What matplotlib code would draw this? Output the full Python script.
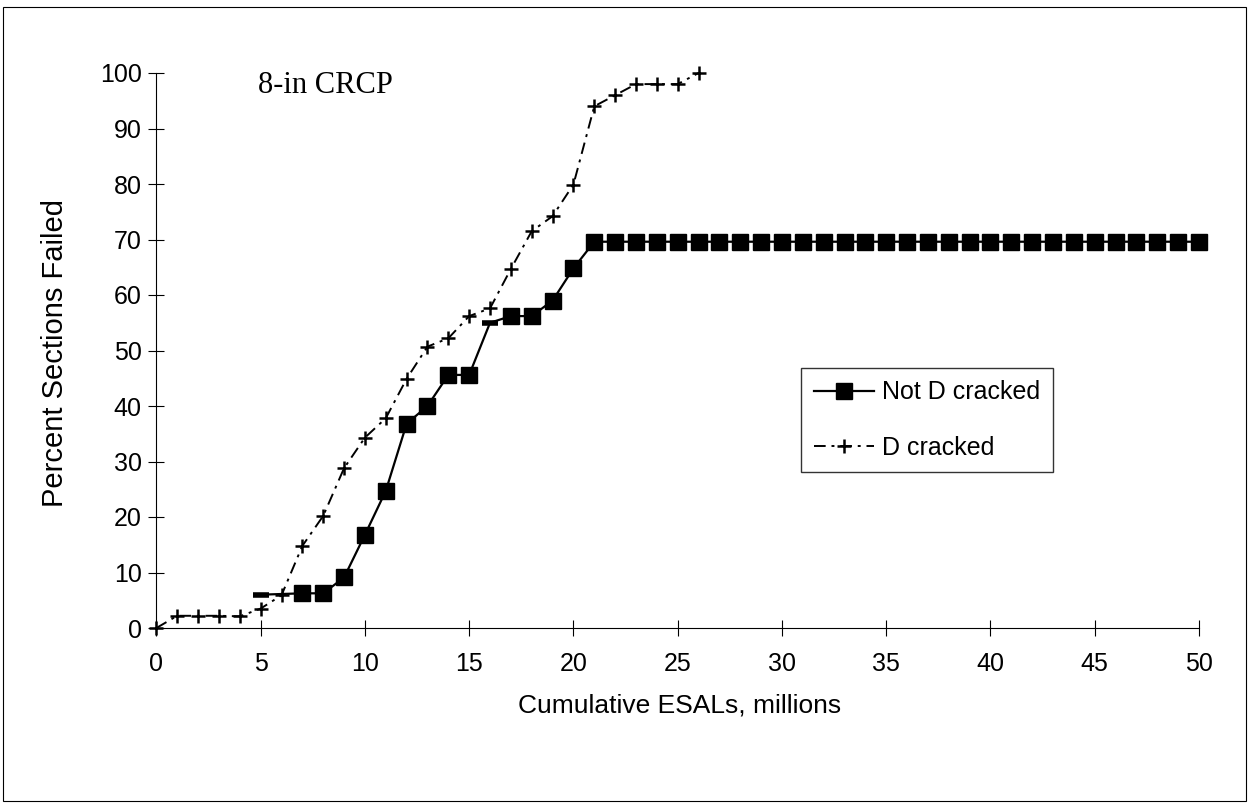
import matplotlib
matplotlib.use('Agg')
import matplotlib.pyplot as plt
from matplotlib.patches import Rectangle
from matplotlib.lines import Line2D

# Data
d_x = [0, 1, 2, 3, 4, 5, 6, 7, 8, 9, 10, 11, 12, 13, 14, 15, 16, 17, 18, 19, 20, 21, 22, 23, 24, 25, 26]
d_y = [0, 2.2, 2.2, 2.2, 2.1, 3.5, 5.9, 14.8, 20.2, 28.8, 34.3, 37.8, 44.9, 50.7, 52.2, 56.2, 57.6,
       64.7, 71.5, 74.2, 79.9, 94, 96, 98, 98, 98, 100]

nd_x = [5, 7, 8, 9, 10, 11, 12, 13, 14, 15, 16, 17, 18, 19, 20] + list(range(21, 51))
nd_y = [6, 6.25, 6.25, 9.1, 16.8, 24.7, 36.8, 40, 45.6, 45.6, 55, 56.2, 56.2, 59, 64.8] + [69.6] * 30
nd_dash_x = [5, 16]   # points drawn as a short bar instead of a square

x_ticks = list(range(0, 51, 5))
y_ticks = list(range(0, 101, 10))

plt.rcParams['font.family'] = ['Liberation Sans', 'DejaVu Sans']

W, H = 1250, 808
fig = plt.figure(figsize=(W / 100, H / 100), dpi=100)
ax = fig.add_axes([156.4 / W, 1 - 628 / H, 1042.6 / W, 555 / H])

# D cracked: dashed line with plus markers
ax.plot(d_x, d_y, color='black', lw=1.4, dashes=(6, 3, 1.5, 3), marker='+',
        markersize=10, markeredgewidth=1.8, clip_on=False, zorder=3)

# Not D cracked: solid line with square markers
sq_idx = [i for i, xv in enumerate(nd_x) if xv not in nd_dash_x]
ax.plot(nd_x, nd_y, color='black', lw=1.6, marker='s', markersize=11,
        markevery=sq_idx, markerfacecolor='black', markeredgecolor='black', clip_on=False, zorder=4)
ax.plot(nd_dash_x, [nd_y[nd_x.index(v)] for v in nd_dash_x], ls='none', marker='_',
        markersize=11, markeredgewidth=4, color='black', zorder=4)

ax.set_xlim(0, 50)
ax.set_ylim(0, 100)
ax.set_xticks(x_ticks)
ax.set_yticks(y_ticks)
ax.spines['top'].set_visible(False)
ax.spines['right'].set_visible(False)
ax.spines['left'].set_linewidth(0.8)
ax.spines['bottom'].set_linewidth(0.8)
ax.tick_params(axis='x', direction='inout', length=12, width=0.8, pad=11, labelsize=18)
ax.tick_params(axis='y', direction='inout', length=11, width=0.8, pad=5, labelsize=18)

ax.text(4.87, 96.4, '8-in CRCP', family=['Liberation Serif', 'DejaVu Serif'], fontsize=22,
        va='baseline', ha='left')

fig.text(55 / W, 1 - 353 / H, 'Percent Sections Failed', rotation=90, ha='center', va='center', fontsize=21)
fig.text(680 / W, 1 - 705 / H, 'Cumulative ESALs, millions', ha='center', va='center', fontsize=19)

handles = [Line2D([], [], color='black', lw=1.6, marker='s', markersize=11),
           Line2D([], [], color='black', lw=1.4, dashes=(6, 3, 1.5, 3), marker='+',
                  markersize=10, markeredgewidth=1.8)]
leg = fig.legend(handles, ['Not D cracked', 'D cracked'], loc='upper left',
                 bbox_to_anchor=(801 / W, 1 - 368 / H), fontsize=18, frameon=True,
                 fancybox=False, edgecolor='black', handlelength=2.4, handletextpad=0.35,
                 borderpad=0.5, labelspacing=1.25, borderaxespad=0)
leg.get_frame().set_linewidth(1.0)

# thin border around the whole picture
fig.patches.append(Rectangle((3 / W, 1 - 801 / H), 1243 / W, 794 / H, transform=fig.transFigure,
                             fill=False, edgecolor='black', lw=0.8))

fig.savefig('out.png', dpi=100)
